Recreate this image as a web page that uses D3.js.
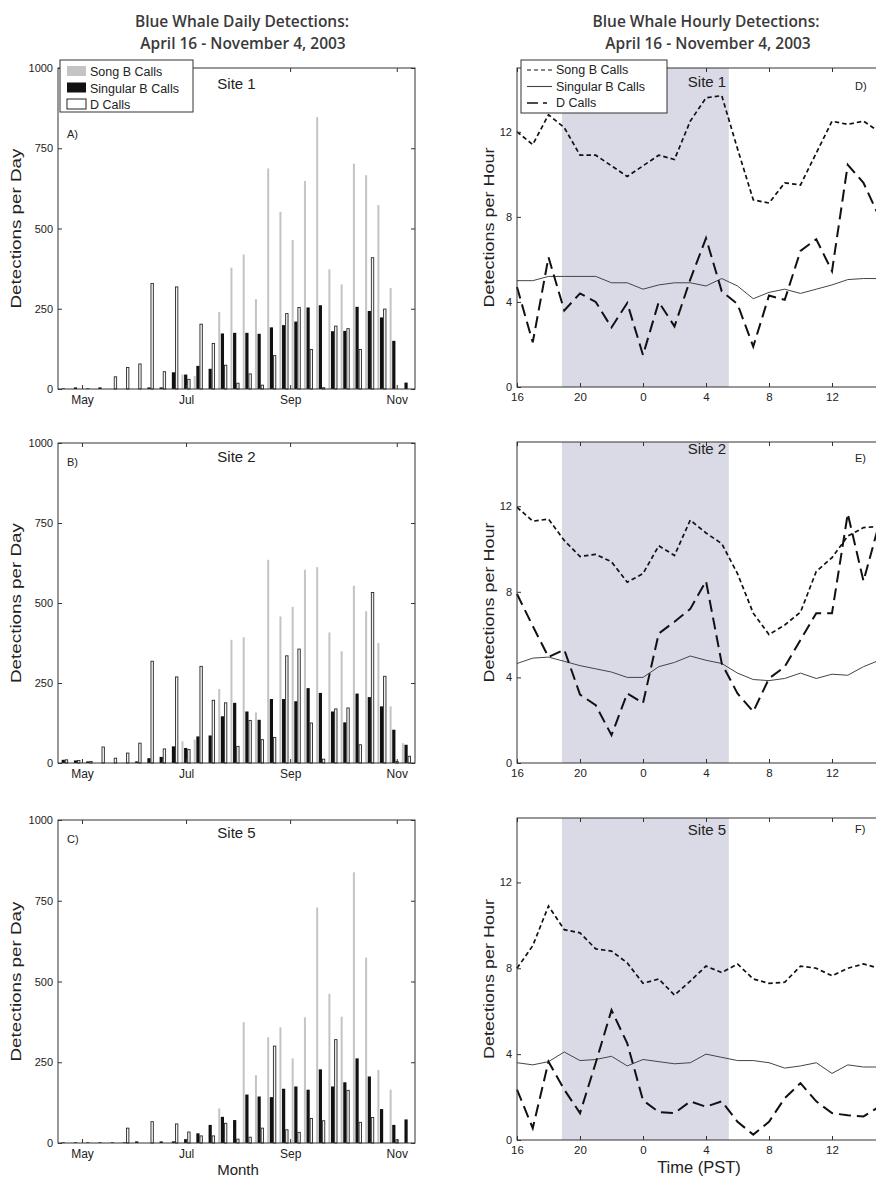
<!DOCTYPE html>
<html>
<head>
<meta charset="utf-8">
<title>Blue Whale Detections</title>
<script src="https://cdn.jsdelivr.net/npm/d3@7"></script>
<style>
  body { margin: 0; background: #fff; }
  svg { display: block; }
  text { font-family: "Liberation Sans", Arial, sans-serif; fill: #222; }
  .axis text { font-size: 11px; fill: #222; }
  .axis line { stroke: #333; }
  .axis path { display: none; }
</style>
</head>
<body>
<div id="chart"></div>
<script>
// ---------- weekly bars (left column) ----------
const weeks = [0,1,2,3,4,5,6,7,8,9,10,11,12,13,14,15,16,17,18,19,20,21,22,23,24,25,26,27,28];
const monthLabels = ["May", "Jul", "Sep", "Nov"];
const monthWeeks = [1.53, 10.03, 18.53, 27.24]; // month starts, in week units
const dayTicks = [0, 250, 500, 750, 1000];

// Site 1
const songB1 = [0,0,0,0,0,0,0,0,0,0,45,40,0,240,378,419,280,687,552,464,648,847,373,326,702,666,573,315,0];
const singB1 = [2,5,2,5,0,0,0,5,5,52,45,72,63,173,175,175,172,192,199,210,254,261,180,181,256,243,223,150,20];
const dCall1 = [0,0,0,0,38,67,78,329,54,318,30,202,142,74,18,47,12,104,235,254,123,4,196,188,123,409,249,0,0];
// Site 2
const songB2 = [0,0,0,0,0,0,0,0,0,0,68,73,0,231,385,393,158,635,458,488,604,612,408,349,554,474,375,177,62];
const singB2 = [10,8,5,0,0,0,5,15,19,52,47,83,86,146,188,161,135,200,200,193,234,219,161,127,217,206,177,104,57];
const dCall2 = [10,8,5,50,15,31,62,318,44,269,42,302,196,188,52,133,73,80,335,356,125,12,169,172,57,533,271,5,21];
// Site 5
const songB5 = [0,0,0,0,0,0,0,0,0,0,0,0,0,107,0,374,210,327,358,262,389,729,462,391,838,574,226,165,0];
const singB5 = [2,2,2,2,2,2,5,0,5,5,12,30,56,81,71,150,144,142,168,175,165,228,175,188,262,206,105,56,73];
const dCall5 = [0,0,0,0,0,46,0,66,0,59,34,22,22,61,12,18,46,300,41,33,76,69,320,163,64,79,0,10,0];

// ---------- hourly lines (right column) ----------
const hours = [16,17,18,19,20,21,22,23,0,1,2,3,4,5,6,7,8,9,10,11,12,13,14,15];
const hourTicks = [16, 20, 0, 4, 8, 12];
const hourValueTicks = [0, 4, 8, 12];
const nightStart = 18.85, nightEnd = 5.45; // shaded dark hours (PST)

const songH1 = [12.0,11.4,12.8,12.2,10.9,10.9,10.4,9.9,10.4,10.9,10.7,12.5,13.6,13.7,11.2,8.8,8.65,9.6,9.5,11.0,12.5,12.35,12.5,12.0];
const singH1 = [5.0,5.0,5.2,5.2,5.2,5.2,4.9,4.9,4.6,4.8,4.9,4.9,4.75,5.1,4.75,4.15,4.45,4.6,4.4,4.6,4.8,5.05,5.1,5.1];
const dH1    = [4.7,2.1,6.1,3.6,4.4,4.0,2.8,3.95,1.5,4.0,2.85,5.05,7.0,4.5,3.9,1.9,4.3,4.1,6.4,6.95,5.45,10.45,9.6,8.0];

const songH2 = [11.95,11.3,11.4,10.4,9.65,9.75,9.4,8.45,8.85,10.15,9.7,11.35,10.75,10.25,8.85,7.0,6.0,6.45,7.05,8.95,9.6,10.6,11.0,11.05];
const singH2 = [4.65,4.9,4.95,4.75,4.55,4.4,4.25,4.0,4.0,4.5,4.7,5.0,4.8,4.65,4.2,3.9,3.85,3.95,4.2,3.95,4.15,4.1,4.5,4.8];
const dH2    = [7.9,6.4,4.95,5.3,3.2,2.7,1.3,3.25,2.8,6.05,6.6,7.2,8.5,4.65,3.25,2.4,3.95,4.5,5.75,7.0,7.0,11.65,8.5,11.2];

const songH5 = [8.0,9.05,10.9,9.8,9.65,8.9,8.8,8.25,7.3,7.5,6.75,7.4,8.1,7.8,8.2,7.5,7.3,7.35,8.1,8.0,7.65,8.0,8.2,8.0];
const singH5 = [3.6,3.5,3.65,4.1,3.7,3.75,3.9,3.45,3.75,3.65,3.55,3.6,4.0,3.85,3.7,3.7,3.6,3.35,3.45,3.6,3.1,3.5,3.4,3.4];
const dH5    = [2.35,0.55,3.65,2.35,1.25,3.6,6.05,4.5,1.85,1.3,1.25,1.8,1.55,1.8,0.85,0.25,0.85,1.95,2.65,1.8,1.25,1.15,1.1,1.55];

// ---------- layout ----------
const W = 876, H = 1178;
const songColor = "#c4c4c4", singColor = "#111", nightColor = "#dadae6";

const svg = d3.select("#chart").append("svg")
  .attr("width", W)
  .attr("height", H);

// titles
const titleFont = '"Open Sans", "Noto Sans", sans-serif';
[["Blue Whale Daily Detections:", 242, 27], ["April 16 - November 4, 2003", 243, 49],
 ["Blue Whale Hourly Detections:", 706, 27], ["April 16 - November 4, 2003", 708, 49]]
  .forEach(([t, x, y]) => {
    svg.append("text").attr("x", x).attr("y", y)
      .attr("text-anchor", "middle")
      .style("font-family", titleFont)
      .style("font-size", "15.5px")
      .style("font-weight", 600)
      .style("fill", "#3a3a3a")
      .text(t);
  });

// ---------- left column: weekly bars ----------
const leftX0 = 58, leftX1 = 415;
const xw = d3.scaleLinear().domain([-0.43, 28.73]).range([leftX0, leftX1]);
const sub = d3.scaleBand().domain(["song", "sing", "d"]).range([-4.8, 4.8]);
const bw = sub.bandwidth();

const leftPanels = [
  { site: "Site 1", tag: "A)", song: songB1, sing: singB1, d: dCall1, top: 68, bottom: 389, siteDy: 21, tagDy: 70 },
  { site: "Site 2", tag: "B)", song: songB2, sing: singB2, d: dCall2, top: 443, bottom: 763, siteDy: 19, tagDy: 23 },
  { site: "Site 5", tag: "C)", song: songB5, sing: singB5, d: dCall5, top: 820, bottom: 1143, siteDy: 18, tagDy: 23 }
];

leftPanels.forEach(p => {
  const y = d3.scaleLinear().domain([0, 1000]).range([p.bottom, p.top]);
  const g = svg.append("g");

  g.selectAll("rect.song").data(weeks).join("rect")
    .attr("class", "song")
    .attr("x", i => xw(i) + sub("song") + 0.6)
    .attr("width", bw - 1.2)
    .attr("y", i => y(p.song[i]))
    .attr("height", i => y(0) - y(p.song[i]))
    .attr("fill", songColor);

  g.selectAll("rect.sing").data(weeks).join("rect")
    .attr("class", "sing")
    .attr("x", i => xw(i) + sub("sing"))
    .attr("width", bw)
    .attr("y", i => y(p.sing[i]))
    .attr("height", i => y(0) - y(p.sing[i]))
    .attr("fill", singColor);

  g.selectAll("rect.dcall").data(weeks.filter(i => p.d[i] > 0)).join("rect")
    .attr("class", "dcall")
    .attr("x", i => xw(i) + sub("d") + 0.4)
    .attr("width", bw - 0.8)
    .attr("y", i => y(p.d[i]))
    .attr("height", i => y(0) - y(p.d[i]))
    .attr("fill", "#f2f2f2")
    .attr("stroke", "#2a2a2a")
    .attr("stroke-width", 0.9);

  // axes, MATLAB style: ticks pointing inward on all four sides
  g.append("g").attr("class", "axis")
    .attr("transform", `translate(${leftX0},0)`)
    .call(d3.axisLeft(y).tickValues(dayTicks).tickSize(-4).tickPadding(5).tickFormat(d3.format("d")));
  g.append("g").attr("class", "axis")
    .attr("transform", `translate(${leftX1},0)`)
    .call(d3.axisRight(y).tickValues(dayTicks).tickSize(-4).tickFormat(""));
  g.append("g").attr("class", "axis")
    .attr("transform", `translate(0,${p.bottom})`)
    .call(d3.axisBottom(xw).tickValues(monthWeeks).tickSize(-4).tickPadding(6)
      .tickFormat((d, i) => monthLabels[i]))
    .selectAll("text").style("font-size", "12px");
  g.append("g").attr("class", "axis")
    .attr("transform", `translate(0,${p.top})`)
    .call(d3.axisTop(xw).tickValues(monthWeeks).tickSize(-4).tickFormat(""));

  g.append("rect")
    .attr("x", leftX0).attr("y", p.top)
    .attr("width", leftX1 - leftX0).attr("height", p.bottom - p.top)
    .attr("fill", "none").attr("stroke", "#333");

  g.append("text")
    .attr("x", (leftX0 + leftX1) / 2).attr("y", p.top + p.siteDy)
    .attr("text-anchor", "middle")
    .style("font-size", "15px")
    .text(p.site);
  g.append("text")
    .attr("x", 67).attr("y", p.top + p.tagDy)
    .style("font-size", "11px")
    .text(p.tag);

  g.append("text")
    .attr("transform", `translate(21,${(p.top + p.bottom) / 2}) rotate(-90)`)
    .attr("text-anchor", "middle")
    .attr("textLength", 160)
    .attr("lengthAdjust", "spacingAndGlyphs")
    .style("font-size", "15px")
    .text("Detections per Day");
});

svg.append("text")
  .attr("x", 238).attr("y", 1175)
  .attr("text-anchor", "middle")
  .style("font-size", "15px")
  .text("Month");

// left legend
const legL = svg.append("g");
legL.append("rect").attr("x", 60).attr("y", 60).attr("width", 133).attr("height", 52)
  .attr("fill", "#fff").attr("stroke", "#333");
[{ label: "Song B Calls", fill: songColor, stroke: "none" },
 { label: "Singular B Calls", fill: singColor, stroke: "none" },
 { label: "D Calls", fill: "#fff", stroke: "#222" }].forEach((e, k) => {
  legL.append("rect").attr("x", 67).attr("y", 66 + 16.5 * k).attr("width", 19).attr("height", 10)
    .attr("fill", e.fill).attr("stroke", e.stroke);
  legL.append("text").attr("x", 90).attr("y", 76 + 16.5 * k)
    .style("font-size", "12.5px").text(e.label);
});

// ---------- right column: hourly lines ----------
const rightX0 = 517, rightX1 = 895;
const xh = d3.scaleLinear().domain([16, 40]).range([rightX0, rightX1]);
const toCont = h => (h < 16 ? h + 24 : h);
const hourTickPos = hourTicks.map(toCont);

const styles = {
  song: { dash: "4.5,3", width: 1.7, color: "#111" },
  sing: { dash: null, width: 1, color: "#444" },
  d:    { dash: "12,6", width: 2, color: "#111" }
};

const rightPanels = [
  { site: "Site 1", tag: "D)", song: songH1, sing: singH1, d: dH1, top: 68, bottom: 387, siteDy: 19, tagDy: 22 },
  { site: "Site 2", tag: "E)", song: songH2, sing: singH2, d: dH2, top: 442, bottom: 763, siteDy: 12, tagDy: 20 },
  { site: "Site 5", tag: "F)", song: songH5, sing: singH5, d: dH5, top: 818, bottom: 1140, siteDy: 17, tagDy: 15 }
];

rightPanels.forEach(p => {
  const y = d3.scaleLinear().domain([0, 15]).range([p.bottom, p.top]);
  const g = svg.append("g");

  g.append("rect")
    .attr("x", xh(nightStart)).attr("y", p.top)
    .attr("width", xh(nightEnd + 24) - xh(nightStart))
    .attr("height", p.bottom - p.top)
    .attr("fill", nightColor);

  ["sing", "d", "song"].forEach(key => {
    const s = styles[key];
    const line = d3.line()
      .x((v, i) => xh(toCont(hours[i])))
      .y(v => y(v));
    g.append("path")
      .datum(p[key])
      .attr("d", line)
      .attr("fill", "none")
      .attr("stroke", s.color)
      .attr("stroke-width", s.width)
      .attr("stroke-dasharray", s.dash);
  });

  g.append("g").attr("class", "axis")
    .attr("transform", `translate(${rightX0},0)`)
    .call(d3.axisLeft(y).tickValues(hourValueTicks).tickSize(-4).tickPadding(5));
  g.append("g").attr("class", "axis")
    .attr("transform", `translate(${rightX1},0)`)
    .call(d3.axisRight(y).tickValues(hourValueTicks).tickSize(-4).tickFormat(""));
  g.append("g").attr("class", "axis")
    .attr("transform", `translate(0,${p.bottom})`)
    .call(d3.axisBottom(xh).tickValues(hourTickPos).tickSize(-4).tickPadding(6)
      .tickFormat(d => d % 24))
    .selectAll("text").style("font-size", "11.5px");
  g.append("g").attr("class", "axis")
    .attr("transform", `translate(0,${p.top})`)
    .call(d3.axisTop(xh).tickValues(hourTickPos).tickSize(-4).tickFormat(""));

  g.append("rect")
    .attr("x", rightX0).attr("y", p.top)
    .attr("width", rightX1 - rightX0).attr("height", p.bottom - p.top)
    .attr("fill", "none").attr("stroke", "#333");

  g.append("text")
    .attr("x", 707).attr("y", p.top + p.siteDy)
    .attr("text-anchor", "middle")
    .style("font-size", "15px")
    .text(p.site);
  g.append("text")
    .attr("x", 855).attr("y", p.top + p.tagDy)
    .style("font-size", "11px")
    .text(p.tag);

  g.append("text")
    .attr("transform", `translate(494,${(p.top + p.bottom) / 2}) rotate(-90)`)
    .attr("text-anchor", "middle")
    .attr("textLength", 160)
    .attr("lengthAdjust", "spacingAndGlyphs")
    .style("font-size", "15px")
    .text("Detections per Hour");
});

svg.append("text")
  .attr("x", 699).attr("y", 1173)
  .attr("text-anchor", "middle")
  .style("font-size", "16.5px")
  .text("Time (PST)");

// right legend
const legR = svg.append("g");
legR.append("rect").attr("x", 521).attr("y", 60).attr("width", 146).attr("height", 53)
  .attr("fill", "#fff").attr("stroke", "#333");
[{ label: "Song B Calls", key: "song" },
 { label: "Singular B Calls", key: "sing" },
 { label: "D Calls", key: "d" }].forEach((e, k) => {
  const s = styles[e.key];
  legR.append("line")
    .attr("x1", 527).attr("x2", 552)
    .attr("y1", 70 + 16.5 * k).attr("y2", 70 + 16.5 * k)
    .attr("stroke", s.color)
    .attr("stroke-width", e.key === "d" ? 1.4 : 1.1)
    .attr("stroke-dasharray", e.key === "song" ? "4,3" : e.key === "d" ? "11,5,4,5" : null);
  legR.append("text").attr("x", 556).attr("y", 74 + 16.5 * k)
    .style("font-size", "12.5px").text(e.label);
});
</script>
</body>
</html>
